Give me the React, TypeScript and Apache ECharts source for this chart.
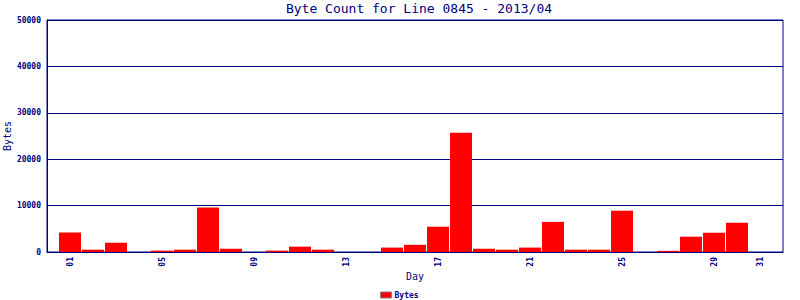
import React, { useEffect, useRef } from "react";
import * as echarts from "echarts";

const days = [1, 2, 3, 4, 5, 6, 7, 8, 9, 10, 11, 12, 13, 14, 15, 16, 17, 18, 19, 20, 21, 22, 23, 24, 25, 26, 27, 28, 29, 30, 31];
const bytes = [4200, 500, 2000, 0, 300, 500, 9600, 700, 0, 300, 1150, 500, 0, 0, 950, 1550, 5450, 25700, 700, 500, 950, 6500, 500, 500, 8900, 0, 250, 3300, 4150, 6300, 0];
const shownDayLabels = ["01", "05", "09", "13", "17", "21", "25", "29", "31"];
const yTicks = [0, 10000, 20000, 30000, 40000, 50000];

const NAVY = "#000080";
const MONO = "DejaVu Sans Mono, Liberation Mono, monospace";

export default function App() {
  const ref = useRef<HTMLDivElement>(null);
  useEffect(() => {
    if (!ref.current) return;
    const chart = echarts.init(ref.current, undefined, { renderer: "svg" });
    chart.setOption({
      animation: false,
      backgroundColor: "#ffffff",
      title: {
        text: "Byte Count for Line 0845 - 2013/04",
        left: 414,
        top: -3,
        textAlign: "center",
        textStyle: { fontFamily: MONO, fontSize: 13, fontWeight: "normal", color: NAVY },
      },
      legend: {
        top: 291,
        left: 380,
        padding: 0,
        itemWidth: 11,
        itemHeight: 6,
        itemGap: 4,
        icon: "rect",
        textStyle: { fontFamily: MONO, fontSize: 8, fontWeight: "bold", color: NAVY, padding: [0, 0, 0, -2] },
        itemStyle: { borderColor: "#808080", borderWidth: 1 },
        data: ["Bytes"],
      },
      grid: {
        left: 47,
        right: 17,
        top: 20,
        bottom: 48,
        show: true,
        borderColor: NAVY,
        borderWidth: 1,
        containLabel: false,
        outerBoundsMode: "none",
      },
      xAxis: {
        type: "value",
        min: 0,
        max: 32,
        interval: 1,
        name: "Day",
        nameLocation: "middle",
        nameGap: 19,
        nameMoveOverlap: false,
        nameTextStyle: { fontFamily: MONO, fontSize: 10, color: NAVY },
        axisLine: { show: true, lineStyle: { color: NAVY, width: 1 } },
        axisTick: { show: false },
        splitLine: { show: false },
        axisLabel: {
          rotate: 90,
          margin: 5,
          fontFamily: MONO,
          fontSize: 8,
          fontWeight: "bold",
          color: NAVY,
          formatter: (v: number) => {
            const s = String(v).padStart(2, "0");
            return shownDayLabels.includes(s) ? s : "";
          },
        },
      },
      yAxis: {
        type: "value",
        min: yTicks[0],
        max: yTicks[yTicks.length - 1],
        interval: 10000,
        name: "Bytes",
        nameLocation: "middle",
        nameGap: 35,
        nameMoveOverlap: false,
        nameTextStyle: { fontFamily: MONO, fontSize: 10, color: NAVY },
        axisLine: { show: true, lineStyle: { color: NAVY, width: 1 } },
        axisTick: { show: false },
        splitLine: { show: true, lineStyle: { color: NAVY, width: 1 } },
        axisLabel: {
          margin: 6,
          fontFamily: MONO,
          fontSize: 8,
          fontWeight: "bold",
          color: NAVY,
          formatter: (v: number) => String(v),
        },
      },
      series: [
        {
          name: "Bytes",
          type: "bar",
          barWidth: 22,
          itemStyle: { color: "#ff0000" },
          data: days.map((d, i) => [d, bytes[i]]),
        },
      ],
    });
    return () => chart.dispose();
  }, []);
  return (
    <div
      ref={ref}
      style={{ position: "fixed", left: 0, top: 0, width: 800, height: 300 }}
    />
  );
}
